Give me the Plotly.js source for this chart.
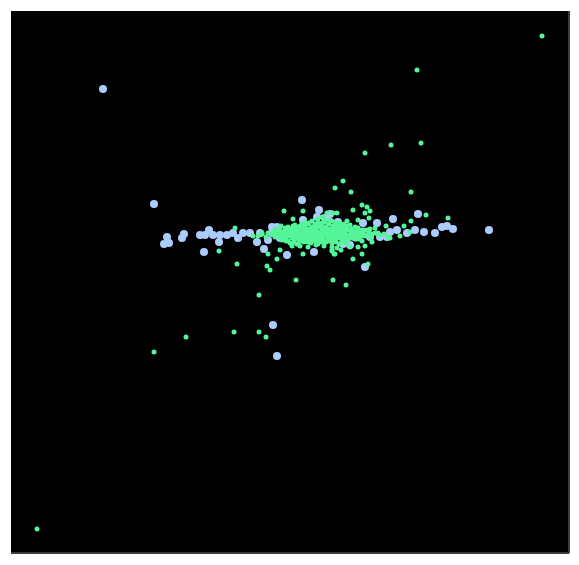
<!DOCTYPE html>
<html>
<head>
<meta charset="utf-8">
<script src="https://cdn.plot.ly/plotly-3.0.1.min.js"></script>
<style>html,body{margin:0;padding:0;background:#fff;}#chart{width:579px;height:565px;}</style>
</head>
<body>
<div id="chart"></div>
<script>
// Series A (light blue, larger markers)
const blueX = [103,154,167,164,169,182,184,200,205,209,213,219,204,220,227,233,238,243,250,257,260,264,272,277,272,287,268,280,302,319,317,303,314,
  273,277,
  343,350,357,370,380,390,365,393,418,377,363,387,397,407,415,424,435,442,447,453,489,330,338,310,292,297,306,325,284];
const blueY = [89,204,237,244,243,238,234,235,235,230,235,242,252,235,235,233,238,233,233,242,233,249,227,227,233,255,240,238,200,210,217,220,252,
  325,356,
  244,245,237,237,237,232,267,219,214,223,223,237,230,233,230,232,233,227,226,229,230,214,222,238,234,231,231,218,236];

// Series B (green, small markers)
const greenX = [542,417,391,421,365,411,343,351,335,
  37,154,186,234,259,266,259,270,267,237,296,333,346,
  219,235,284,303,293,268,277,303,292,280,332,335,327,322,333,
  362,367,370,353,365,337,426,448,411,386,375,369,358,347,410,372,365,358,350,332,334,362,353,368,337,341,380,390,400,404,253,262,
  305,312,318,325,332,340,
  295,300,308,315,322,328,335,342,350,
  285,290,296,302,309,316,323,330,337,344,352,358,
  278,283,289,295,301,307,313,319,325,331,337,343,349,355,361,367,
  272,277,283,288,294,300,306,312,318,324,330,336,342,348,354,360,366,372,378,
  275,281,287,293,299,305,311,317,323,329,335,341,347,353,359,365,371,
  282,288,294,300,306,312,318,324,330,336,342,348,355,362,
  290,297,304,311,318,325,332,339,346,
  300,308,316,324,332,
  309,315,321,327,314,320,326,332,338,300,306,344,350,298,286,356,362,318,324,330,
  302,309,315,322,329,336,344,
  281,288,293,299,305,312,319,326,333,340,347,355,
  275,280,286,292,298,304,310,316,322,328,334,340,346,352,358,364,370,
  268,274,280,286,291,297,303,309,315,321,327,333,339,345,351,357,363,369,375,
  278,284,290,296,302,308,314,320,326,332,338,344,350,356,362,368,
  286,292,298,304,310,316,322,328,334,340,346,352,359,
  294,301,308,315,322,329,336,343,
  262,266,258,384,388,376];
const greenY = [36,70,145,143,153,192,181,192,188,
  529,352,337,332,332,337,295,270,266,264,280,280,285,
  251,228,211,211,219,254,259,254,246,250,251,254,213,217,213,
  205,207,211,210,213,213,215,218,221,226,228,218,220,221,232,242,246,247,247,250,254,254,259,264,248,250,235,238,236,226,236,233,
  222,221,223,222,221,223,
  225,226,224,225,226,224,225,226,225,
  228,229,227,228,229,227,228,229,228,227,229,228,
  231,232,230,231,232,230,231,232,230,231,232,231,230,232,231,230,
  234,235,233,234,235,233,234,235,234,233,235,234,233,235,234,233,235,234,233,
  237,238,236,237,238,236,237,238,237,236,238,237,236,238,237,236,238,
  240,241,239,240,241,239,240,241,240,239,241,240,239,241,
  243,244,242,243,244,242,243,244,243,
  246,247,245,246,247,
  236,233,238,230,240,227,242,236,232,235,229,238,236,244,241,239,230,219,218,220,
  224,223,224,223,224,223,224,
  226,227,226,227,226,227,226,227,226,227,226,227,
  229,230,229,230,229,230,229,230,229,230,229,230,229,230,229,230,229,
  233,232,233,232,233,232,233,232,233,232,233,232,233,232,233,232,233,232,233,
  236,235,236,235,236,235,236,235,236,235,236,235,236,235,236,235,
  239,238,239,238,239,238,239,238,239,238,239,238,239,
  242,241,242,241,242,241,242,241,
  234,237,236,234,237,233];

// Axis extent (same units as the values)
const xRange = [11, 569];
const yRange = [553, 11];

const traces = [
  {type:'scatter', mode:'markers', x: blueX, y: blueY,
   marker:{color:'#aaccff', size:8, line:{width:0}}, hoverinfo:'skip'},
  {type:'scatter', mode:'markers', x: greenX, y: greenY,
   marker:{color:'#55f599', size:5, line:{width:0}}, hoverinfo:'skip'}
];

const axisCommon = {showgrid:false, zeroline:false, showticklabels:false, ticks:'', showline:false};

const layout = {
  width:579, height:565,
  margin:{l:11, r:10, t:11, b:12, pad:0},
  paper_bgcolor:'#ffffff', plot_bgcolor:'#000000',
  showlegend:false,
  xaxis: Object.assign({range:xRange}, axisCommon),
  yaxis: Object.assign({range:yRange}, axisCommon),
  shapes:[
    {type:'line', xref:'paper', yref:'paper', x0:0, x1:1, y0:0, y1:0, line:{color:'#3c3c3c', width:2}},
    {type:'line', xref:'paper', yref:'paper', x0:1, x1:1, y0:0, y1:1, line:{color:'#3c3c3c', width:2}}
  ]
};

Plotly.newPlot('chart', traces, layout, {displayModeBar:false, staticPlot:true});
</script>
</body>
</html>
